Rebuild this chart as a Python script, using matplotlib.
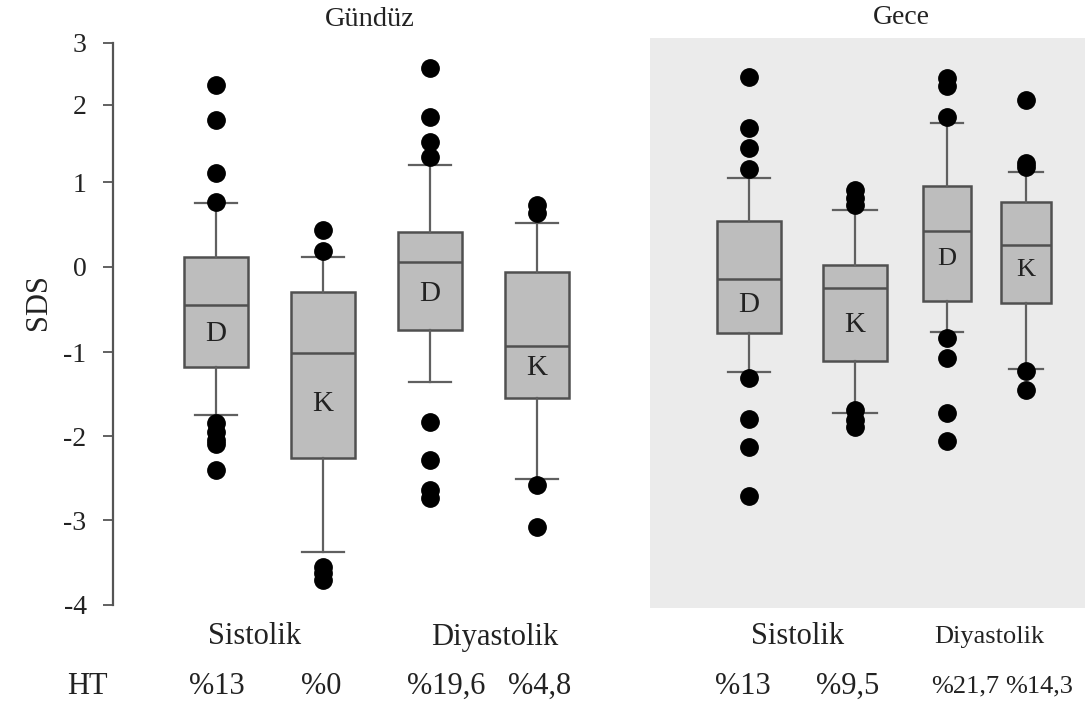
import numpy as np
import matplotlib.pyplot as plt
from matplotlib.patches import Rectangle

plt.rcParams['font.family'] = ['Liberation Serif', 'DejaVu Serif']

W, H = 1085, 706

# Gündüz: Sistolik D, Sistolik K, Diyastolik D, Diyastolik K
day_q1 = [-1.18, -2.26, -0.74, -1.55]
day_med = [-0.45, -1.01, 0.06, -0.93]
day_q3 = [0.12, -0.29, 0.41, -0.06]
day_whislo = [-1.75, -3.38, -1.36, -2.51]
day_whishi = [0.75, 0.12, 1.22, 0.52]
day_fliers = [
    [2.32, 1.81, 1.12, 0.77, -1.85, -1.95, -2.05, -2.10, -2.40],
    [0.44, 0.19, -3.55, -3.62, -3.70],
    [2.60, 1.84, 1.52, 1.32, -1.83, -2.29, -2.64, -2.74],
    [0.73, 0.64, -2.58, -3.08],
]

# Gece
night_q1 = [-0.78, -1.11, -0.40, -0.42]
night_med = [-0.14, -0.25, 0.42, 0.26]
night_q3 = [0.54, 0.02, 0.95, 0.76]
night_whislo = [-1.24, -1.73, -0.76, -1.20]
night_whishi = [1.05, 0.67, 1.77, 1.13]
night_fliers = [
    [2.45, 1.70, 1.44, 1.17, -1.31, -1.80, -2.13, -2.71],
    [0.91, 0.81, 0.73, -1.69, -1.81, -1.89],
    [2.44, 2.31, 1.84, -0.84, -1.07, -1.73, -2.06],
    [2.08, 1.25, 1.19, -1.23, -1.45],
]

groups = ['D', 'K', 'D', 'K']
bp_labels = ['Sistolik', 'Diyastolik']
ht_day = ['%13', '%0', '%19,6', '%4,8']
ht_night = ['%13', '%9,5', '%21,7', '%14,3']

# the y axis of the source figure is not evenly spaced, follow its tick positions
tick_vals = np.arange(-4, 4)
tick_px = H - np.array([605, 520, 436, 352, 267, 182, 105, 43])


def fwd(v):
    return np.interp(v, tick_vals, tick_px)


def inv(p):
    return np.interp(p, tick_px, tick_vals)


def make_stats(q1, med, q3, lo, hi, fl):
    return [dict(q1=a, med=b, q3=c, whislo=d, whishi=e, fliers=f)
            for a, b, c, d, e, f in zip(q1, med, q3, lo, hi, fl)]


box_style = dict(
    patch_artist=True,
    boxprops=dict(facecolor='#bdbdbd', edgecolor='#505050', linewidth=1.8),
    medianprops=dict(color='#505050', linewidth=1.8),
    whiskerprops=dict(color='#606060', linewidth=1.6),
    capprops=dict(color='#606060', linewidth=1.6),
    flierprops=dict(marker='o', markerfacecolor='black', markeredgecolor='black', markersize=12.5),
)
txt = '#222222'

fig = plt.figure(figsize=(W / 100, H / 100), dpi=100)

# left panel: Gündüz
ax1 = fig.add_axes([113 / W, 101 / H, 487 / W, 562 / H])
ax1.set_yscale('function', functions=(fwd, inv))
pos1 = [1, 2, 3, 4]
ax1.bxp(make_stats(day_q1, day_med, day_q3, day_whislo, day_whishi, day_fliers),
        positions=pos1, widths=0.6, capwidths=0.4, **box_style)
ax1.set_xlim(0.037, 4.588)
ax1.set_ylim(-4, 3)
ax1.set_yticks(tick_vals)
ax1.set_yticklabels([str(t) for t in tick_vals])
ax1.set_xticks([])
for s in ['top', 'right', 'bottom']:
    ax1.spines[s].set_visible(False)
ax1.spines['left'].set_color('#555555')
ax1.spines['left'].set_linewidth(1.6)
ax1.tick_params(axis='y', direction='out', length=7, width=1.3, color='#555555',
                labelsize=20, pad=12, labelcolor=txt)
for x, y, g in zip(pos1, [-0.79, -1.62, -0.32, -1.19], groups):
    ax1.text(x, y, g, ha='center', va='center', fontsize=21, color=txt)

# right panel: Gece
fig.patches.append(Rectangle((650 / W, 98 / H), 435 / W, 570 / H, transform=fig.transFigure,
                             facecolor='#ebebeb', edgecolor='none', zorder=-1))
ax2 = fig.add_axes([650 / W, 101 / H, 435 / W, 562 / H])
ax2.set_yscale('function', functions=(fwd, inv))
pos2 = [0.925, 1.916, 2.776, 3.514]
w2 = [0.59, 0.6, 0.45, 0.46]
ax2.bxp(make_stats(night_q1, night_med, night_q3, night_whislo, night_whishi, night_fliers),
        positions=pos2, widths=w2, capwidths=[w * 0.68 for w in w2], **box_style)
ax2.set_xlim(0, 4.065)
ax2.set_ylim(-4, 3)
ax2.axis('off')
for x, y, g, fs in zip(pos2, [-0.45, -0.68, 0.09, -0.03], groups, [21, 21, 19, 19]):
    ax2.text(x, y, g, ha='center', va='center', fontsize=fs, color=txt)

# titles and labels
fig.text(370 / W, 1 - 20 / H, 'Gündüz', ha='center', va='center', fontsize=20.5, color=txt)
fig.text(901 / W, 1 - 18 / H, 'Gece', ha='center', va='center', fontsize=20, color=txt)
fig.text(38 / W, 1 - 302 / H, 'SDS', rotation=90, ha='center', va='center', fontsize=22, color=txt)

for x, lab, fs in zip([255, 495, 798, 989], bp_labels * 2, [22, 22, 22, 19]):
    fig.text(x / W, 1 - 637 / H, lab, ha='center', va='center', fontsize=fs, color=txt)

fig.text(87 / W, 1 - 686 / H, 'HT', ha='center', va='center', fontsize=22, color=txt)
for x, lab in zip([217, 321, 446, 540], ht_day):
    fig.text(x / W, 1 - 686 / H, lab, ha='center', va='center', fontsize=22, color=txt)
for x, lab, fs in zip([743, 848, 965, 1039], ht_night, [22, 22, 19, 19]):
    fig.text(x / W, 1 - 686 / H, lab, ha='center', va='center', fontsize=fs, color=txt)

fig.savefig('out.png', dpi=100)
